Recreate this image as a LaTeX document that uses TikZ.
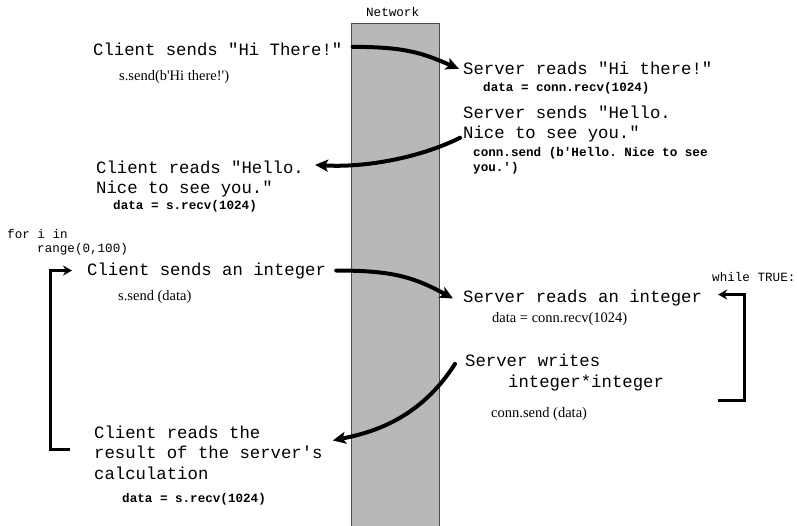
\documentclass[tikz,border=0pt]{standalone}
\usepackage{fontspec}
\setmainfont{Liberation Serif}
\setmonofont{Liberation Mono}
\usetikzlibrary{arrows.meta}
\definecolor{netgray}{RGB}{184,184,184}
\begin{document}
\begin{tikzpicture}[x=1pt, y=-1pt,
  msg/.style={anchor=base west, inner sep=0pt, align=left, font=\ttfamily\fontsize{17.3}{20.4}\selectfont},
  snippet/.style={anchor=base west, inner sep=0pt, align=left, font=\ttfamily\bfseries\fontsize{12.6}{15}\selectfont},
  pysnippet/.style={anchor=base west, inner sep=0pt, font=\rmfamily\fontsize{14.5}{17}\selectfont},
  looplabel/.style={anchor=base west, inner sep=0pt, align=left, font=\ttfamily\fontsize{12.6}{14.5}\selectfont},
  flow/.style={line width=4pt, line cap=round, -{Stealth[length=13pt, width=12pt, inset=3pt]}},
  loopline/.style={line width=3pt, -{Stealth[length=9pt, width=10pt]}}]
  \useasboundingbox (0,0) rectangle (797,526);
  \node[draw=black!70, line width=1.2pt, fill=netgray, minimum width=88pt, minimum height=510pt,
        anchor=north west, inner sep=0pt] (net) at (351,23) {};
  \node[looplabel, anchor=base] (netlabel) at ([shift={(-3,-6)}]net.north) {Network};

  \node[msg] (hisend) at (93,56) {Client sends "Hi There!"};
  \node[pysnippet] (hisendcode) at (119,81) {s.send(b\textquotesingle Hi there!\textquotesingle)};
  \node[msg] (hiread) at (463,75) {Server reads "Hi there!"};
  \node[snippet] (hireadcode) at (483,92) {data = conn.recv(1024)};
  \node[msg] (hellosend) at (463,139) {Server sends "Hello.\\Nice to see you."};
  \node[snippet] (hellosendcode) at (473,172) {conn.send (b'Hello. Nice to see\\you.')};
  \node[msg] (helloread) at (96,194) {Client reads "Hello.\\Nice to see you."};
  \node[snippet] (helloreadcode) at (113,210) {data = s.recv(1024)};

  \node[looplabel] (forloop) at (7,253) {for i in\\\hspace*{30pt}range(0,100)};
  \node[msg] (intsend) at (87,276) {Client sends an integer};
  \node[pysnippet] (intsendcode) at (118,301) {s.send (data)};
  \node[msg] (intread) at (463,303) {Server reads an integer};
  \node[pysnippet] (intreadcode) at (492,323) {data = conn.recv(1024)};
  \node[looplabel] (whileloop) at (712,282) {while TRUE:};
  \node[msg] (sqsend) at (465,387) {Server writes\\\hspace*{43pt}integer*integer};
  \node[pysnippet] (sqsendcode) at (491,417) {conn.send (data)};
  \node[msg] (sqread) at (94,479) {Client reads the\\result of the server's\\calculation};
  \node[snippet] (sqreadcode) at (122,502) {data = s.recv(1024)};
  \coordinate (whileend) at (718,400);

  \draw[flow] ([shift={(10,-3)}]hisend.east) .. controls +(55,0) and +(-35,-15) .. ([shift={(-4,0)}]hiread.west);
  \draw[flow] ([shift={(-3,-5)}]hellosend.south west) .. controls +(-40,20) and +(50,3) .. ([shift={(11,4)}]helloread.north east);
  \draw[flow] ([shift={(10,-1)}]intsend.east) .. controls +(55,0) and +(-40,-22) .. ([shift={(-10,0)}]intread.west);
  \draw[flow] ([shift={(-10,10)}]sqsend.north west) .. controls +(-35,55) and +(40,-8) .. ([shift={(10,-12)}]sqread.east);

  \draw[loopline] ([shift={(-24,-3)}]sqread.west) -- ++(-20,0) |- ([shift={(-15,-1)}]intsend.west);
  \draw[loopline] (whileend) -- ++(26,0) |- ([shift={(16,-4)}]intread.east);
\end{tikzpicture}
\end{document}
